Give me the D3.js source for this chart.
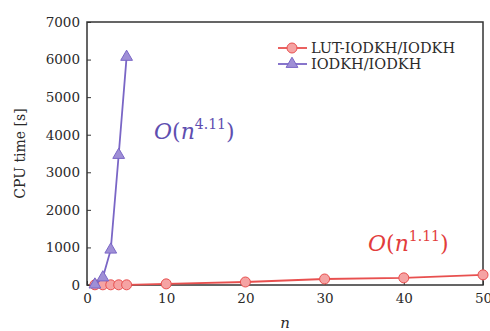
<!DOCTYPE html>
<html lang="en">
<head>
<meta charset="utf-8">
<script src="https://d3js.org/d3.v7.min.js"></script>
<style>
  body { margin: 0; background: #fff; }
  svg text { font-family: "DejaVu Serif", "Liberation Serif", serif; }
</style>
</head>
<body>
<div id="chart"></div>
<script>
// data
const nLut = [1, 2, 3, 4, 5, 10, 20, 30, 40, 50]
const cpuLut = [5, 5, 5, 5, 5, 30, 80, 160, 190, 270]
const nIodkh = [1, 2, 3, 4, 5]
const cpuIodkh = [10, 200, 940, 3460, 6070]
const xTicks = [0, 10, 20, 30, 40, 50]
const yTicks = [0, 1000, 2000, 3000, 4000, 5000, 6000, 7000]
const seriesNames = ["LUT-IODKH/IODKH", "IODKH/IODKH"]

const width = 490
const height = 331
const margins = { top: 22, right: 7, bottom: 46, left: 87 }

const red = "#e8504f", redFill = "#f5a3a3"
const purple = "#7a66c6", purpleFill = "#9f8fd6"
const serif = "'DejaVu Serif', 'Liberation Serif', serif"

const svg = d3.select("#chart").append("svg")
    .attr("width", width)
    .attr("height", height)

const x = d3.scaleLinear().domain([0, 50]).range([margins.left, width - margins.right])
const y = d3.scaleLinear().domain([0, 7000]).range([height - margins.bottom, margins.top])

// axes, ticks pointing inward
svg.append("g")
    .attr("transform", "translate(0," + y(0) + ")")
    .call(d3.axisBottom(x).tickValues(xTicks).tickFormat(d3.format("d")).tickSize(-4).tickPadding(8))
    .attr("font-family", serif).attr("font-size", 13.5)
    .call(g => g.select(".domain").remove())
    .call(g => g.selectAll("text").attr("fill", "#2a2a2a"))
    .call(g => g.selectAll("line").attr("stroke", "#333"))

svg.append("g")
    .attr("transform", "translate(" + x(0) + ",0)")
    .call(d3.axisLeft(y).tickValues(yTicks).tickFormat(d3.format("d")).tickSize(-4).tickPadding(7))
    .attr("font-family", serif).attr("font-size", 13.5)
    .call(g => g.select(".domain").remove())
    .call(g => g.selectAll("text").attr("fill", "#2a2a2a"))
    .call(g => g.selectAll("line").attr("stroke", "#333"))

// frame
svg.append("rect")
    .attr("x", x(0)).attr("y", y(7000))
    .attr("width", x(50) - x(0)).attr("height", y(0) - y(7000))
    .attr("fill", "none").attr("stroke", "#333").attr("stroke-width", 1.5)

const lut = nLut.map((n, i) => ({ n: n, v: cpuLut[i] }))
const iod = nIodkh.map((n, i) => ({ n: n, v: cpuIodkh[i] }))

const line = d3.line().x(d => x(d.n)).y(d => y(d.v))
const tri = d3.symbol().type(d3.symbolTriangle).size(60)

svg.append("path").datum(lut).attr("d", line)
    .attr("fill", "none").attr("stroke", red).attr("stroke-width", 1.8)
svg.selectAll("circle.lut").data(lut).enter().append("circle")
    .attr("class", "lut")
    .attr("cx", d => x(d.n)).attr("cy", d => y(d.v)).attr("r", 5)
    .attr("fill", redFill).attr("stroke", red).attr("stroke-width", 1)

svg.append("path").datum(iod).attr("d", line)
    .attr("fill", "none").attr("stroke", purple).attr("stroke-width", 1.8)
svg.selectAll("path.tri").data(iod).enter().append("path")
    .attr("class", "tri")
    .attr("d", tri)
    .attr("transform", d => "translate(" + x(d.n) + "," + y(d.v) + ")")
    .attr("fill", purpleFill).attr("stroke", purple).attr("stroke-width", 1)

// legend
const legend = svg.append("g")
seriesNames.forEach((name, i) => {
    const ly = 48 + i * 16
    legend.append("line").attr("x1", 278).attr("x2", 307).attr("y1", ly).attr("y2", ly)
        .attr("stroke", i === 0 ? red : purple).attr("stroke-width", 1.8)
    if (i === 0) {
        legend.append("circle").attr("cx", 292).attr("cy", ly).attr("r", 5)
            .attr("fill", redFill).attr("stroke", red)
    } else {
        legend.append("path").attr("d", tri).attr("transform", "translate(292," + ly + ")")
            .attr("fill", purpleFill).attr("stroke", purple)
    }
    legend.append("text").attr("x", 311).attr("y", ly + 5)
        .attr("font-size", 14.5).attr("fill", "#2a2a2a").text(name)
})

// complexity labels
function bigO(tx, ty, exp, color) {
    const t = svg.append("text").attr("x", tx).attr("y", ty)
        .attr("font-size", 22).attr("fill", color)
    t.append("tspan").attr("font-style", "italic").text("O")
    t.append("tspan").text("(")
    t.append("tspan").attr("font-style", "italic").text("n")
    t.append("tspan").attr("font-size", 14).attr("dy", -10).text(exp)
    t.append("tspan").attr("dy", 10).text(")")
}
bigO(154, 139, "4.11", "#5e4eb0")
bigO(368, 251, "1.11", "#e23c3c")

// axis titles
svg.append("text")
    .attr("transform", "translate(25," + ((y(0) + y(7000)) / 2) + ") rotate(-90)")
    .attr("text-anchor", "middle").attr("font-size", 14).attr("fill", "#2a2a2a")
    .text("CPU time [s]")
svg.append("text")
    .attr("x", (x(0) + x(50)) / 2).attr("y", 328)
    .attr("text-anchor", "middle").attr("font-size", 15).attr("font-style", "italic").attr("fill", "#2a2a2a")
    .text("n")
</script>
</body>
</html>
